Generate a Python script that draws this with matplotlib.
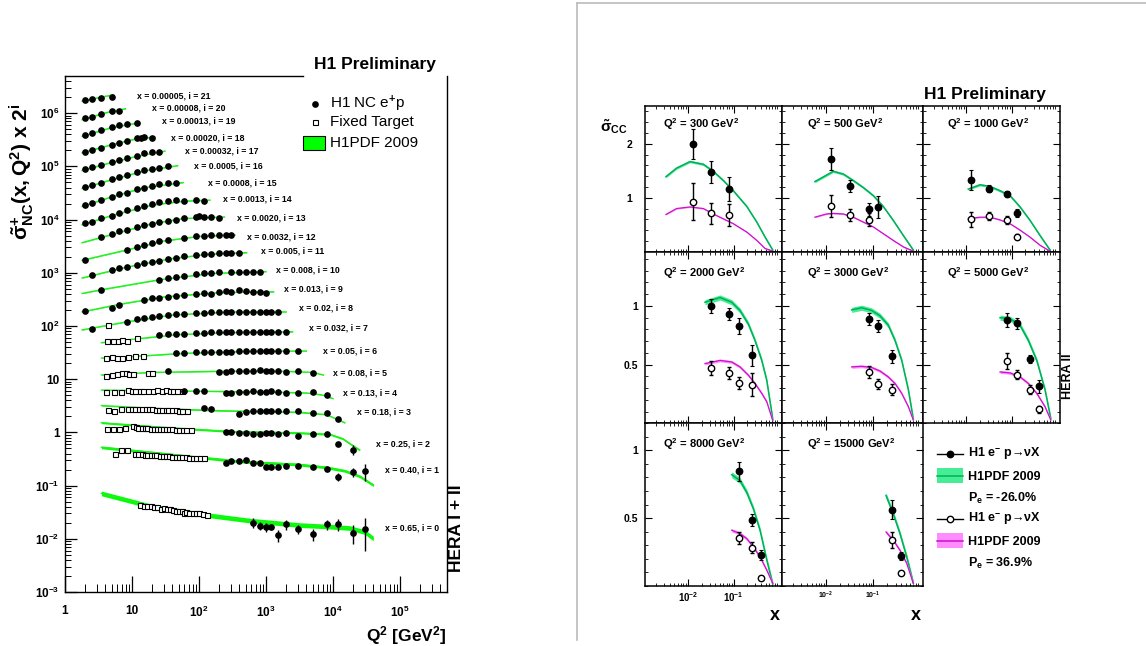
import numpy as np
import matplotlib
matplotlib.use('Agg')
import matplotlib.pyplot as plt
from matplotlib.lines import Line2D
from matplotlib.patches import Rectangle
from matplotlib.ticker import FixedLocator, LogLocator, MultipleLocator, NullFormatter

plt.rcParams['font.family'] = ['Liberation Sans', 'DejaVu Sans']
plt.rcParams['font.weight'] = 'bold'
plt.rcParams['mathtext.fontset'] = 'custom'
plt.rcParams['mathtext.rm'] = 'Liberation Sans'
plt.rcParams['mathtext.it'] = 'Liberation Sans:bold'
plt.rcParams['mathtext.bf'] = 'Liberation Sans:bold'
plt.rcParams['mathtext.sf'] = 'Liberation Sans:bold'
plt.rcParams['mathtext.default'] = 'bf'
plt.rcParams['mathtext.fallback'] = 'stixsans'

# ---------------- left: NC e+p reduced cross section x 2^i ----------------
x_bins = ['0.00005', '0.00008', '0.00013', '0.00020', '0.00032', '0.0005', '0.0008',
          '0.0013', '0.0020', '0.0032', '0.005', '0.008', '0.013', '0.02', '0.032',
          '0.05', '0.08', '0.13', '0.18', '0.25', '0.40', '0.65']
i_vals = list(range(21, -1, -1))

# H1 NC e+p points (reduced cross section, before the 2^i factor)
h1_q2 = [
    [2, 2.5, 3.5, 5],
    [2, 2.5, 3.5, 5, 6.5],
    [2, 2.5, 3.5, 5, 6.5, 8.5, 12],
    [2, 2.5, 3.5, 5, 6.5, 8.5, 12, 13.5, 15, 20],
    [2, 2.5, 3.5, 5, 6.5, 8.5, 12, 15, 20, 25],
    [2, 2.5, 3.5, 5, 6.5, 8.5, 12, 15, 20, 25, 35],
    [2, 2.5, 3.5, 5, 6.5, 8.5, 12, 15, 20, 25, 35, 45],
    [2, 2.5, 3.5, 5, 6.5, 8.5, 12, 15, 20, 25, 35, 45, 60, 90, 120],
    [3.5, 5, 6.5, 8.5, 12, 15, 20, 25, 35, 45, 60, 90, 100, 120, 150, 200],
    [2, 8.5, 12, 15, 20, 25, 35, 60, 90, 120, 150, 200, 250, 300],
    [2.5, 5, 6.5, 8.5, 12, 15, 20, 25, 35, 45, 60, 90, 120, 150, 200, 250, 300, 400],
    [3.5, 25, 35, 45, 60, 90, 120, 150, 200, 300, 400, 500, 650, 800],
    [2, 5, 6.5, 15, 20, 25, 35, 45, 60, 90, 120, 150, 200, 250, 300, 400, 500, 650, 800, 1000],
    [2.5, 8.5, 12, 15, 20, 25, 35, 45, 60, 90, 120, 150, 200, 250, 300, 400, 500, 650, 800, 1000, 1200, 1500],
    [25, 35, 45, 60, 90, 120, 150, 200, 250, 300, 400, 500, 650, 800, 1000, 1200, 1500, 2000],
    [45, 60, 90, 120, 150, 200, 250, 300, 400, 500, 650, 800, 1000, 1200, 1500, 2000, 3000],
    [35, 200, 250, 300, 400, 500, 650, 800, 1000, 1200, 1500, 2000, 3000, 5000],
    [60, 90, 120, 250, 300, 400, 500, 650, 800, 1000, 1200, 1500, 2000, 3000, 5000, 8000],
    [120, 150, 400, 500, 650, 800, 1000, 1200, 1500, 2000, 3000, 5000, 8000, 12000],
    [250, 300, 400, 500, 650, 800, 1000, 1200, 1500, 2000, 3000, 5000, 8000, 12000, 20000],
    [250, 300, 400, 500, 650, 800, 1000, 1200, 1500, 2000, 3000, 5000, 8000, 12000, 20000, 30000],
    [650, 800, 1000, 1200, 1500, 2000, 3000, 5000, 8000, 12000, 20000, 30000],
]
h1_sig = [
    [0.84, 0.87, 0.93, 0.98],
    [0.76, 0.82, 0.92, 1.05, 1.06],
    [0.74, 0.82, 0.92, 1.06, 1.15, 1.19, 1.23],
    [0.72, 0.78, 0.86, 0.96, 1.06, 1.16, 1.29, 1.32, 1.34, 1.29],
    [0.67, 0.73, 0.81, 0.91, 1.01, 1.11, 1.21, 1.35, 1.44, 1.44],
    [0.62, 0.67, 0.76, 0.87, 0.97, 1.07, 1.19, 1.28, 1.35, 1.41, 1.52],
    [0.57, 0.63, 0.71, 0.82, 0.91, 0.98, 1.13, 1.21, 1.31, 1.43, 1.47, 1.47],
    [0.52, 0.56, 0.65, 0.72, 0.82, 0.92, 1.02, 1.11, 1.20, 1.29, 1.38, 1.43, 1.38, 1.43, 1.38],
    [0.58, 0.65, 0.73, 0.79, 0.89, 0.95, 1.03, 1.09, 1.16, 1.22, 1.29, 1.38, 1.43, 1.38, 1.38, 1.29],
    [0.43, 0.65, 0.76, 0.81, 0.90, 0.97, 1.01, 1.09, 1.20, 1.22, 1.23, 1.24, 1.25, 1.25],
    [0.44, 0.55, 0.59, 0.64, 0.69, 0.74, 0.79, 0.81, 0.89, 0.94, 1.01, 1.06, 1.09, 1.10, 1.14, 1.14, 1.14, 1.17],
    [0.46, 0.72, 0.77, 0.82, 0.86, 0.91, 0.96, 0.96, 1.00, 1.02, 1.02, 1.02, 1.02, 1.02],
    [0.37, 0.43, 0.49, 0.60, 0.65, 0.67, 0.70, 0.73, 0.75, 0.78, 0.80, 0.77, 0.84, 0.89, 0.86, 0.93, 0.89, 0.86, 0.84, 0.83],
    [0.34, 0.47, 0.53, 0.56, 0.58, 0.61, 0.63, 0.65, 0.66, 0.68, 0.69, 0.71, 0.73, 0.73, 0.73, 0.73, 0.73, 0.73, 0.73, 0.72, 0.72, 0.71],
    [0.53, 0.55, 0.55, 0.56, 0.57, 0.58, 0.60, 0.59, 0.60, 0.60, 0.60, 0.60, 0.61, 0.61, 0.61, 0.60, 0.60, 0.61],
    [0.48, 0.49, 0.50, 0.50, 0.51, 0.51, 0.51, 0.51, 0.53, 0.53, 0.53, 0.54, 0.53, 0.54, 0.54, 0.54, 0.54],
    [0.45, 0.42, 0.43, 0.45, 0.45, 0.45, 0.45, 0.47, 0.45, 0.45, 0.45, 0.43, 0.45, 0.41],
    [0.38, 0.375, 0.375, 0.34, 0.35, 0.355, 0.36, 0.38, 0.36, 0.355, 0.38, 0.355, 0.35, 0.35, 0.355, 0.315],
    [0.355, 0.34, 0.28, 0.30, 0.32, 0.32, 0.32, 0.32, 0.315, 0.315, 0.31, 0.285, 0.285, 0.22],
    [0.25, 0.25, 0.24, 0.24, 0.233, 0.23, 0.246, 0.246, 0.233, 0.24, 0.217, 0.23, 0.23, 0.151, 0.117],
    [0.131, 0.147, 0.147, 0.151, 0.131, 0.135, 0.113, 0.113, 0.113, 0.117, 0.117, 0.113, 0.101, 0.073, 0.091, 0.095],
    [0.0201, 0.0174, 0.0164, 0.0164, 0.0118, 0.0188, 0.0153, 0.0122, 0.0188, 0.0188, 0.0130, 0.0151],
]
# errors only where they stick out of the markers
h1_err = [[]] * 19 + [
    [0.006] * 13 + [0.015, 0.025],
    [0.004] * 12 + [0.006, 0.012, 0.018, 0.035],
    [0.004, 0.003, 0.003, 0.002, 0.003, 0.004, 0.003, 0.003, 0.004, 0.005, 0.005, 0.0093],
]

# fixed target points
ft_q2 = [[]] * 13 + [
    [4.4],
    [4.2, 5.15, 6.25, 7, 8.5, 11.7],
    [4.1, 5, 5.9, 7, 8.8, 11, 14.7],
    [4.1, 5, 5.9, 7, 8.1, 9.1, 10.2, 17.5, 19.7],
    [4.1, 5.45, 6.8, 8.6, 9.9, 11.2, 13, 14.7, 17.5, 20.4, 23.4, 27.7, 32.7, 36.8, 41.3, 46.4, 55.4],
    [4.4, 5.45, 6.8, 8.6, 9.9, 11.2, 12.6, 14.2, 16, 18, 20, 22.5, 25, 28, 32, 35, 40, 45, 50, 56, 67],
    [4.2, 5.2, 6.3, 7.8, 10.5, 11.5, 12.5, 14, 15.5, 17, 19, 21, 23.5, 26, 29, 32, 36, 40, 45, 50, 57, 65, 76],
    [5.6, 6.8, 8.3, 11, 12.5, 14, 15.5, 17, 19, 21, 23, 26, 29, 32, 36, 40, 45, 50, 56, 63, 70, 80, 90, 105, 120],
    [13, 15, 17, 19, 21, 24, 27, 30, 33, 37, 41, 45, 50, 55, 60, 65, 70, 80, 90, 100, 115, 130],
]
ft_sig = [[]] * 13 + [
    [0.40],
    [0.41, 0.40, 0.41, 0.43, 0.40, 0.46],
    [0.39, 0.40, 0.39, 0.39, 0.40, 0.43, 0.43],
    [0.36, 0.37, 0.39, 0.40, 0.41, 0.39, 0.39, 0.41, 0.41],
    [0.36, 0.36, 0.355, 0.39, 0.38, 0.38, 0.38, 0.38, 0.38, 0.38, 0.39, 0.38, 0.40, 0.38, 0.38, 0.375, 0.375],
    [0.33, 0.32, 0.34, 0.35, 0.35, 0.35, 0.35, 0.345, 0.34, 0.34, 0.34, 0.335, 0.335, 0.33, 0.33, 0.33, 0.325, 0.325, 0.32, 0.32, 0.32],
    [0.29, 0.295, 0.295, 0.30, 0.33, 0.31, 0.305, 0.30, 0.30, 0.30, 0.295, 0.295, 0.29, 0.29, 0.29, 0.285, 0.285, 0.285, 0.28, 0.28, 0.28, 0.275, 0.275],
    [0.20, 0.233, 0.233, 0.196, 0.196, 0.194, 0.192, 0.19, 0.188, 0.186, 0.185, 0.183, 0.182, 0.18, 0.178, 0.176, 0.175, 0.173, 0.172, 0.17, 0.168, 0.167, 0.165, 0.164, 0.163],
    [0.043, 0.042, 0.042, 0.041, 0.040, 0.039, 0.037, 0.038, 0.036, 0.036, 0.035, 0.034, 0.033, 0.033, 0.031, 0.032, 0.030, 0.031, 0.030, 0.031, 0.029, 0.028],
]

# H1PDF 2009 curve nodes
fit_q2 = [
    [1.8, 3.5, 5.3], [1.8, 4, 8], [1.8, 5, 13], [1.8, 5, 12, 22], [1.8, 5, 12, 31],
    [1.8, 5, 15, 48], [1.8, 5, 15, 58], [1.8, 5, 20, 60, 146], [1.8, 5, 20, 60, 240],
    [1.8, 8.5, 30, 100, 345], [1.8, 8.5, 40, 150, 515], [1.8, 3.5, 25, 150, 1000],
    [1.8, 6.5, 30, 200, 1300], [1.8, 8.5, 40, 300, 2000], [3.5, 12, 50, 300, 2500],
    [3.5, 15, 60, 500, 4000], [3.5, 20, 200, 2000, 5000, 7200],
    [3.5, 50, 1000, 4000, 7000, 10000], [3.5, 20, 200, 3000, 8000, 15000],
    [3.5, 30, 300, 3000, 9000, 14000, 20000, 25000],
    [3.5, 20, 100, 500, 3000, 8000, 15000, 25000, 40000],
    [3.5, 18.6, 103, 577, 3215, 9016, 17950, 30060, 39900],
]
fit_sig = [
    [0.80, 0.96, 1.06], [0.72, 0.97, 1.16], [0.70, 1.03, 1.26], [0.69, 0.98, 1.27, 1.36],
    [0.64, 0.91, 1.19, 1.48], [0.59, 0.86, 1.25, 1.58], [0.54, 0.82, 1.21, 1.52],
    [0.49, 0.73, 1.15, 1.36, 1.42], [0.45, 0.64, 1.03, 1.28, 1.37],
    [0.42, 0.66, 0.97, 1.18, 1.26], [0.39, 0.63, 0.91, 1.10, 1.17],
    [0.40, 0.47, 0.72, 0.95, 1.03], [0.36, 0.50, 0.69, 0.83, 0.86],
    [0.33, 0.47, 0.63, 0.72, 0.72], [0.38, 0.45, 0.54, 0.59, 0.61],
    [0.39, 0.43, 0.48, 0.52, 0.53], [0.375, 0.42, 0.44, 0.44, 0.42, 0.375],
    [0.39, 0.375, 0.36, 0.345, 0.315, 0.27], [0.40, 0.355, 0.32, 0.30, 0.27, 0.19],
    [0.38, 0.31, 0.26, 0.245, 0.23, 0.19, 0.14, 0.117],
    [0.262, 0.21, 0.17, 0.14, 0.125, 0.11, 0.095, 0.075, 0.051],
    [0.0716, 0.0414, 0.0292, 0.0221, 0.0182, 0.0170, 0.0160, 0.0134, 0.0102],
]
fit_rel = [0.012] * 18 + [0.02, 0.04, 0.06, 0.10]

# where the row labels sit (Q2, plotted value)
label_q2 = [11.8, 19.7, 27.7, 37.9, 61.8, 85, 138, 226, 373, 515, 842, 1410, 1875, 3140,
            4430, 7170, 10100, 13960, 23070, 43840, 59700, 59700]
label_y = [2.13e6, 1.24e6, 7.13e5, 3.37e5, 1.97e5, 1.0e5, 4.94e4, 2.44e4, 1.09e4, 4770,
           2570, 1130, 490, 215, 90.6, 34.4, 12.9, 5.43, 2.39, 0.597, 0.196, 0.0157]

# ---------------- right: CC e-p reduced cross section ----------------
cc_q2 = [300, 500, 1000, 2000, 3000, 5000, 8000, 15000]
em_x = [[0.013, 0.032, 0.08], [0.013, 0.032, 0.08, 0.13], [0.013, 0.032, 0.08, 0.13],
        [0.032, 0.08, 0.13, 0.25], [0.08, 0.13, 0.25], [0.08, 0.13, 0.25, 0.40],
        [0.13, 0.25, 0.40], [0.25, 0.40]]
em_y = [[2.0, 1.48, 1.16], [1.72, 1.22, 0.79, 0.83], [1.33, 1.17, 1.07, 0.72],
        [1.0, 0.93, 0.83, 0.58], [0.886, 0.83, 0.57], [0.88, 0.85, 0.55, 0.315],
        [0.844, 0.486, 0.228], [0.561, 0.219]]
em_err = [[0.28, 0.2, 0.22], [0.21, 0.11, 0.12, 0.21], [0.18, 0.07, 0.05, 0.08],
          [0.06, 0.05, 0.07, 0.09], [0.05, 0.05, 0.055], [0.06, 0.05, 0.035, 0.055],
          [0.07, 0.045, 0.035], [0.07, 0.03]]
ep_x = [[0.013, 0.032, 0.08], [0.013, 0.032, 0.08], [0.013, 0.032, 0.08, 0.13],
        [0.032, 0.08, 0.13, 0.25], [0.08, 0.13, 0.25], [0.08, 0.13, 0.25, 0.40],
        [0.13, 0.25, 0.40], [0.25, 0.40]]
ep_y = [[0.93, 0.71, 0.68], [0.85, 0.68, 0.59], [0.60, 0.66, 0.59, 0.28],
        [0.47, 0.43, 0.345, 0.33], [0.434, 0.335, 0.287], [0.53, 0.414, 0.287, 0.118],
        [0.353, 0.28, 0.059], [0.34, 0.096]]
ep_err = [[0.34, 0.2, 0.2], [0.2, 0.11, 0.12], [0.14, 0.08, 0.08, 0.05],
          [0.06, 0.05, 0.05, 0.1], [0.05, 0.04, 0.05], [0.065, 0.04, 0.04, 0.03],
          [0.045, 0.04, 0.01], [0.06, 0.01]]

curve_x = [
    [0.0033, 0.00565, 0.0111, 0.0217, 0.0359, 0.0594, 0.0984, 0.194, 0.321, 0.489, 0.719],
    [0.00582, 0.0103, 0.01425, 0.0232, 0.0379, 0.0618, 0.101, 0.164, 0.268, 0.438, 0.714],
    [0.0113, 0.0203, 0.0336, 0.0556, 0.0918, 0.152, 0.251, 0.415, 0.686],
    [0.0236, 0.0504, 0.0908, 0.138, 0.210, 0.294, 0.413, 0.532, 0.72],
    [0.0351, 0.0572, 0.0933, 0.140, 0.21, 0.292, 0.405, 0.56, 0.714],
    [0.0556, 0.0918, 0.152, 0.231, 0.352, 0.533, 0.711],
    [0.0908, 0.138, 0.194, 0.270, 0.379, 0.532, 0.72],
    [0.188, 0.268, 0.372, 0.517, 0.714],
]
curve_em = [
    [1.39, 1.55, 1.67, 1.62, 1.49, 1.32, 1.13, 0.84, 0.55, 0.27, 0.03],
    [1.30, 1.42, 1.49, 1.44, 1.32, 1.19, 1.04, 0.84, 0.58, 0.30, 0.03],
    [1.16, 1.24, 1.21, 1.13, 1.04, 0.83, 0.58, 0.30, 0.03],
    [1.03, 1.07, 1.03, 0.96, 0.845, 0.705, 0.535, 0.365, 0.035],
    [0.965, 0.983, 0.96, 0.915, 0.835, 0.705, 0.535, 0.285, 0.035],
    [0.898, 0.89, 0.835, 0.705, 0.535, 0.285, 0.04],
    [0.82, 0.777, 0.69, 0.57, 0.41, 0.19, 0.012],
    [0.667, 0.532, 0.385, 0.213, 0.018],
]
curve_ep = [
    [0.69, 0.80, 0.83, 0.80, 0.70, 0.61, 0.52, 0.365, 0.21, 0.06, 0.01],
    [0.64, 0.70, 0.71, 0.70, 0.64, 0.55, 0.46, 0.335, 0.21, 0.09, 0.01],
    [0.61, 0.64, 0.64, 0.59, 0.52, 0.40, 0.27, 0.12, 0.01],
    [0.508, 0.535, 0.522, 0.48, 0.41, 0.339, 0.255, 0.183, 0.022],
    [0.48, 0.485, 0.475, 0.445, 0.395, 0.339, 0.255, 0.141, 0.028],
    [0.437, 0.429, 0.395, 0.339, 0.255, 0.141, 0.028],
    [0.41, 0.385, 0.348, 0.287, 0.213, 0.115, 0.018],
    [0.397, 0.336, 0.262, 0.165, 0.018],
]

W, H = 1146, 646
fig = plt.figure(figsize=(W / 100, H / 100), dpi=100)


def fbox(x0, y0, x1, y1):
    return [x0 / W, 1 - y1 / H, (x1 - x0) / W, (y1 - y0) / H]


def fpt(x, y):
    return x / W, 1 - y / H


# ---- left panel ----
ax = fig.add_axes(fbox(65, 76, 447, 592))
ax.set_xscale('log')
ax.set_yscale('log')
ax.set_xlim(1, 10 ** (382 / 67))
ax.set_ylim(1e-3, 10 ** (-3 + 516 / 53.2))

for k, i in enumerate(i_vals):
    scale = 2.0 ** i
    fq = np.array(fit_q2[k])
    fs = np.array(fit_sig[k]) * scale
    ax.fill_between(fq, fs * (1 - fit_rel[k]), fs * (1 + fit_rel[k]), color='#00ff00', lw=0, zorder=2)
    ax.plot(fq, fs, color='#22ee22', lw=1.0, zorder=2)
    if ft_q2[k]:
        ax.plot(ft_q2[k], np.array(ft_sig[k]) * scale, 's', mfc='white', mec='black',
                ms=3.6, mew=0.8, zorder=3)
    hy = np.array(h1_sig[k]) * scale
    if h1_err[k]:
        ax.errorbar(h1_q2[k], hy, yerr=np.array(h1_err[k]) * scale, fmt='o', color='black',
                    ms=3.8, elinewidth=1.0, capsize=0, zorder=4)
    else:
        ax.plot(h1_q2[k], hy, 'o', color='black', ms=3.8, zorder=4)
    ax.text(label_q2[k], label_y[k], f'x = {x_bins[k]}, i = {i}', fontsize=6.3,
            fontweight='bold', va='center', ha='left')

ax.yaxis.set_major_locator(FixedLocator([10.0 ** p for p in range(-3, 7)]))
ax.set_yticklabels(['10$^{-3}$', '10$^{-2}$', '10$^{-1}$', '1', '10', '10$^{2}$', '10$^{3}$',
                    '10$^{4}$', '10$^{5}$', '10$^{6}$'])
ax.yaxis.set_minor_locator(LogLocator(base=10, subs=np.arange(2, 10), numticks=30))
ax.yaxis.set_minor_formatter(NullFormatter())
ax.xaxis.set_major_locator(FixedLocator([1, 10, 100, 1e3, 1e4, 1e5]))
ax.set_xticklabels(['1', '10', '10$^{2}$', '10$^{3}$', '10$^{4}$', '10$^{5}$'])
ax.xaxis.set_minor_locator(LogLocator(base=10, subs=np.arange(2, 10), numticks=30))
ax.xaxis.set_minor_formatter(NullFormatter())
ax.tick_params(which='both', direction='in', top=False, right=False, labelsize=8.5)
ax.tick_params(axis='y', which='major', length=8.5, width=0.9, pad=4)
ax.tick_params(axis='y', which='minor', length=4.3, width=0.7)
ax.tick_params(axis='x', which='major', length=11.5, width=0.9, pad=9)
ax.tick_params(axis='x', which='minor', length=5.8, width=0.7)
for s in ax.spines.values():
    s.set_linewidth(1.0)
ax.spines['top'].set_bounds(1, 10 ** ((303 - 65) / 67))

# legend of the left panel
lx, ly = fpt(315, 104)
fig.add_artist(Line2D([lx], [ly], marker='o', color='black', ms=3.8, ls='none', transform=fig.transFigure))
lx, ly = fpt(315, 122)
fig.add_artist(Line2D([lx], [ly], marker='s', mfc='white', mec='black', ms=3.6, mew=0.8, ls='none',
                      transform=fig.transFigure))
fig.add_artist(Rectangle(fpt(303, 150), 22 / W, 14 / H, facecolor='#00ff00', edgecolor='black',
                         lw=0.8, transform=fig.transFigure))
for txt, yy in [('H1 NC e$\\mathrm{^{+}}$p', 104), ('Fixed Target', 122), ('H1PDF 2009', 143)]:
    fig.text(*fpt(330, yy), txt, fontsize=11, fontweight='normal', ha='left', va='center')

fig.text(*fpt(375, 65), 'H1 Preliminary', fontsize=12.5, ha='center', va='center')
fig.text(*fpt(22, 172), r'$\tilde{\sigma}^{+}_{NC}(x,Q^{2})$ x 2$^{i}$', fontsize=15,
         rotation=90, ha='center', va='center')
fig.text(*fpt(447, 636), 'Q$^{2}$ [GeV$^{2}$]', fontsize=12.5, ha='right', va='center')
fig.text(*fpt(456.5, 572), 'HERA I + II', fontsize=12.5, rotation=90, ha='center', va='bottom')

# grey frame of the right picture
fig.add_artist(Line2D([577 / W, 577 / W], [1 - 2.7 / H, 1 - 640 / H], color='#bbbbbb', lw=1.2,
                      transform=fig.transFigure))
fig.add_artist(Line2D([577 / W, 1], [1 - 2.7 / H, 1 - 2.7 / H], color='#bbbbbb', lw=1.2,
                      transform=fig.transFigure))

# ---- right panel: 3x3 pads ----
col_px = [(645, 781.7), (781.7, 922.7), (922.7, 1060)]
row_px = [(106, 251.7), (251.7, 423.3), (423.3, 585.7)]
row_top = [2.7, 1.46, 1.2]
row_major = [[1, 2], [0.5, 1], [0.5, 1]]
row_major_lab = [['1', '2'], ['0.5', '1'], ['0.5', '1']]
row_minor = [0.2, 0.1, 0.1]
row_pad = [9, 5, 5]
title_x = [0.135, 0.18, 0.175]

green_band, green_line = '#45ee95', '#00b058'
mag_band, mag_line = '#ff8cff', '#cc11cc'

for p, q2 in enumerate(cc_q2):
    r, c = divmod(p, 3)
    a = fig.add_axes(fbox(col_px[c][0], row_px[r][0], col_px[c][1], row_px[r][1]))
    a.set_xscale('log')
    a.set_xlim(1.15e-3, 1.13)
    a.set_ylim(0, row_top[r])

    cx = np.array(curve_x[p])
    ce = np.array(curve_em[p])
    cp = np.array(curve_ep[p])
    a.fill_between(cx, ce - 0.022, ce + 0.022, color=green_band, lw=0, zorder=2)
    a.plot(cx, ce, color=green_line, lw=1.1, zorder=2)
    a.fill_between(cx, cp - 0.012, cp + 0.012, color=mag_band, lw=0, zorder=2)
    a.plot(cx, cp, color=mag_line, lw=0.9, zorder=2)

    a.errorbar(em_x[p], em_y[p], yerr=em_err[p], fmt='o', color='black', ms=4.6,
               elinewidth=1.0, capsize=1.6, capthick=0.8, zorder=4)
    a.errorbar(ep_x[p], ep_y[p], yerr=ep_err[p], fmt='o', mfc='white', mec='black', ecolor='black',
               ms=4.6, mew=1.0, elinewidth=1.0, capsize=1.6, capthick=0.8, zorder=4)

    a.text(title_x[c], 0.875, f'Q$^{{2}}$ = {q2} GeV$^{{2}}$', transform=a.transAxes,
           fontsize=8, ha='left', va='center')

    a.xaxis.set_major_locator(FixedLocator([1e-2, 1e-1]))
    a.xaxis.set_minor_locator(LogLocator(base=10, subs=np.arange(2, 10), numticks=20))
    a.xaxis.set_minor_formatter(NullFormatter())
    a.yaxis.set_major_locator(FixedLocator(row_major[r]))
    a.yaxis.set_minor_locator(MultipleLocator(row_minor[r]))
    a.tick_params(which='both', direction='in', top=True, right=True)
    a.tick_params(which='major', length=5, width=0.8)
    a.tick_params(which='minor', length=2.5, width=0.6)
    if c == 0:
        a.set_yticklabels(row_major_lab[r])
        a.tick_params(axis='y', labelsize=7.5, pad=row_pad[r])
    else:
        a.set_yticklabels([])
    if r == 2:
        a.set_xticklabels(['10$^{-2}$', '10$^{-1}$'])
        a.tick_params(axis='x', labelsize=7 if c == 0 else 5, pad=3)
    else:
        a.set_xticklabels([])
    for s in a.spines.values():
        s.set_linewidth(1.1)

fig.text(*fpt(614, 127), r'$\tilde{\sigma}_{CC}$', fontsize=11, ha='center', va='center')
fig.text(*fpt(985, 95), 'H1 Preliminary', fontsize=12.5, ha='center', va='center')
fig.text(*fpt(1068, 376), 'HERA II', fontsize=9, rotation=90, ha='center', va='center')
fig.text(*fpt(780, 615), 'x', fontsize=13, ha='right', va='center')
fig.text(*fpt(921, 615), 'x', fontsize=13, ha='right', va='center')

# legend of the right panel
x0, x1, xm = 936.7, 963.3, 950
for yy, face in [(454.3, 'black'), (519.3, 'white')]:
    fig.add_artist(Line2D([x0 / W, x1 / W], [1 - yy / H] * 2, color='black', lw=1.0,
                          transform=fig.transFigure))
    fig.add_artist(Line2D([xm / W], [1 - yy / H], marker='o', mfc=face, mec='black', mew=1.0,
                          ms=4.6, transform=fig.transFigure))
for (ya, yb), fc, lc in [((468.3, 483.3), green_band, green_line), ((533, 548.3), mag_band, mag_line)]:
    fig.add_artist(Rectangle(fpt(x0, yb), (x1 - x0) / W, (yb - ya) / H, facecolor=fc, lw=0,
                             transform=fig.transFigure))
    fig.add_artist(Line2D([x0 / W, x1 / W], [1 - (ya + yb) / 2 / H] * 2, color=lc, lw=1.1,
                          transform=fig.transFigure))
leg_txt = [(454.3, 'H1 e$^{-}$ p→νX'), (476.7, 'H1PDF 2009'),
           (498.3, 'P$_{e}$ = -26.0%'), (519.3, 'H1 e$^{-}$ p→νX'),
           (541.7, 'H1PDF 2009'), (563.3, 'P$_{e}$ = 36.9%')]
for yy, txt in leg_txt:
    fig.text(*fpt(968.3, yy), txt, fontsize=9, ha='left', va='center')

fig.savefig('out.png', dpi=100)
